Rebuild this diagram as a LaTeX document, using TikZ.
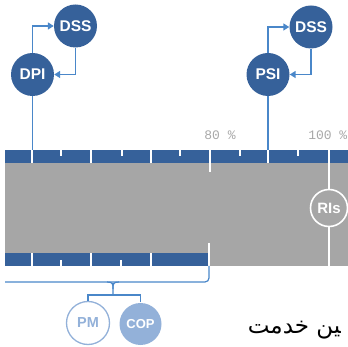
\documentclass[tikz,border=0pt]{standalone}
\usepackage{fontspec}
\setmainfont{Liberation Sans}
\newfontfamily\arabicfont[Script=Arabic]{DejaVu Sans}
\newfontfamily\pctfont{Liberation Mono}
\usetikzlibrary{arrows.meta}
\TeXXeTstate=1
\definecolor{dblue}{HTML}{36619A}
\definecolor{lblue}{HTML}{4A87C9}
\definecolor{pale}{HTML}{93B1D9}
\definecolor{grayband}{HTML}{A6A6A6}
\definecolor{pctgray}{HTML}{A8A8A8}
\begin{document}
\begin{tikzpicture}[x=1pt,y=-1pt,
  bub/.style={circle,fill=dblue,text=white,inner sep=0pt,minimum size=43pt,font=\bfseries\fontsize{15.5}{15.5}\selectfont},
  conn/.style={draw=lblue,line width=1.6pt},
  thinconn/.style={draw=lblue,line width=1.2pt},
  arr/.style={-{Triangle[length=6pt,width=7pt]}},
  tickw/.style={draw=white,line width=1.6pt},
  pct/.style={text=pctgray,font=\pctfont\fontsize{13}{13}\selectfont,inner sep=0pt},
  small/.style={circle,inner sep=0pt,minimum size=43pt,line width=1.3pt,font=\bfseries\fontsize{14.5}{14.5}\selectfont}]
\useasboundingbox (0,0) rectangle (348,347);
\begin{scope}
\clip (0,0) rectangle (348,347);
% bands
\fill[grayband] (5,163) rectangle (348,266);
\fill[dblue] (5,150) rectangle (348,163);
\fill[dblue] (5,253) rectangle (208,266);
% top ticks
\foreach \x in {32,91,151,268} \draw[tickw] (\x,150) -- (\x,163);
\foreach \x in {61,122,180,240,298} \draw[tickw] (\x,150) -- (\x,156);
\draw[tickw] (210,150) -- (210,172);
% bottom ticks
\foreach \x in {32,91,151} \draw[tickw] (\x,253) -- (\x,266);
\foreach \x in {61,121} \draw[tickw] (\x,260) -- (\x,266);
\draw[tickw] (209,243) -- (209,266);
% RIs line
\draw[tickw] (329,150) -- (329,266);
\node[circle,draw=white,line width=1.6pt,fill=grayband,text=white,minimum size=37pt,inner sep=0pt,font=\bfseries\fontsize{15}{15}\selectfont] (ris) at (329,208) {RIs};
% percent labels
\node[pct] (p80) at (220,135) {80 \%};
\node[pct,anchor=east] (p100) at (347.5,135) {100 \%};
% top bubbles
\node[bub] (dss1) at (75.5,26) {DSS};
\node[bub] (dpi) at (32.5,74.5) {DPI};
\node[bub] (dss2) at (311,27) {DSS};
\node[bub] (psi) at (268,74.5) {PSI};
\draw[conn,arr] (dpi.north) |- (dss1.west);
\draw[conn,arr] (dss1.south) |- (dpi.east);
\draw[conn,arr] (psi.north) |- (dss2.west);
\draw[conn,arr] (dss2.south) |- (psi.east);
\coordinate (t1) at (32.5,150);
\coordinate (t2) at (268,150);
\draw[conn] (dpi.south) -- (t1);
\draw[conn] (psi.south) -- (t2);
% bracket
\coordinate (bl) at (5,282);
\coordinate (bc) at (209,282);
\coordinate (bt) at (209,266);
\draw[thinconn,rounded corners=4pt] (bl) -- (bc) -- (bt);
\coordinate (brace) at (113,295);
\draw[thinconn] (107,282) .. controls (113,282) and (113,284) .. (113,289) -- (brace);
\draw[thinconn] (119,282) .. controls (113,282) and (113,284) .. (113,289);
\node[small,draw=pale,fill=white,text=pale] (pm) at (88,323) {PM};
\node[small,fill=pale,text=white,minimum size=42pt,font=\bfseries\fontsize{13}{13}\selectfont] (cop) at (140.5,324) {COP};
\draw[thinconn] (pm.north) -- (pm.north |- brace) -- (cop.north |- brace) -- (cop.north);
% arabic text
\node[anchor=base east,inner sep=0pt,font=\arabicfont\fontsize{23}{23}\selectfont] (serv) at (341,334) {\beginR^^^^200dین خدمت\endR};
\end{scope}
\end{tikzpicture}
\end{document}
